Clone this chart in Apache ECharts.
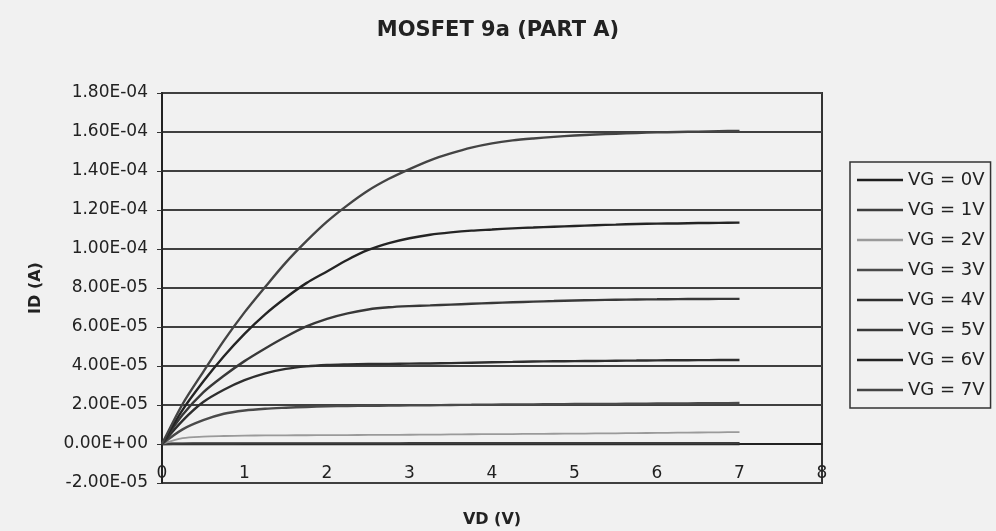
<!DOCTYPE html>
<html>
<head>
<meta charset="utf-8">
<script src="https://cdn.jsdelivr.net/npm/echarts@6/dist/echarts.min.js"></script>
<style>
  html, body { margin: 0; padding: 0; background: #f1f1f1; }
  #chart { width: 996px; height: 531px; }
</style>
</head>
<body>
<div id="chart"></div>
<script>
// Drain voltage VD (V)
const vd = [0, 0.25, 0.5, 0.75, 1, 1.25, 1.5, 1.75, 2, 2.25, 2.5, 2.75, 3, 3.25, 3.5, 3.75, 4, 4.25, 4.5, 4.75, 5, 5.25, 5.5, 5.75, 6, 6.25, 6.5, 6.75, 7];

// Drain current ID (A) for each gate voltage
const vg0 = [0, 0, 0, 0, 0, 0, 0, 0, 0, 0, 0, 0, 0, 0, 0, 0, 0, 0, 0, 0, 0, 0, 0, 0, 0, 0, 0, 0, 0];
const vg1 = [0, 2.0e-7, 2.5e-7, 2.8e-7, 3.0e-7, 3.1e-7, 3.2e-7, 3.2e-7, 3.3e-7, 3.3e-7, 3.4e-7, 3.4e-7, 3.5e-7, 3.5e-7, 3.6e-7, 3.6e-7, 3.7e-7, 3.7e-7, 3.8e-7, 3.8e-7, 3.9e-7, 3.9e-7, 4.0e-7, 4.0e-7, 4.1e-7, 4.1e-7, 4.2e-7, 4.2e-7, 4.3e-7];
const vg2 = [0, 3.0e-6, 3.8e-6, 4.1e-6, 4.3e-6, 4.4e-6, 4.45e-6, 4.5e-6, 4.55e-6, 4.6e-6, 4.65e-6, 4.7e-6, 4.75e-6, 4.8e-6, 4.9e-6, 5.0e-6, 5.05e-6, 5.1e-6, 5.2e-6, 5.25e-6, 5.3e-6, 5.4e-6, 5.5e-6, 5.6e-6, 5.7e-6, 5.8e-6, 5.9e-6, 6.0e-6, 6.1e-6];
const vg3 = [0, 7.5e-6, 1.22e-5, 1.55e-5, 1.72e-5, 1.81e-5, 1.86e-5, 1.9e-5, 1.93e-5, 1.95e-5, 1.96e-5, 1.97e-5, 1.98e-5, 1.99e-5, 2.0e-5, 2.01e-5, 2.02e-5, 2.025e-5, 2.03e-5, 2.04e-5, 2.05e-5, 2.055e-5, 2.06e-5, 2.07e-5, 2.075e-5, 2.08e-5, 2.09e-5, 2.095e-5, 2.1e-5];
const vg4 = [0, 1.2e-5, 2.15e-5, 2.78e-5, 3.27e-5, 3.62e-5, 3.85e-5, 3.98e-5, 4.05e-5, 4.08e-5, 4.1e-5, 4.11e-5, 4.12e-5, 4.13e-5, 4.15e-5, 4.17e-5, 4.19e-5, 4.21e-5, 4.23e-5, 4.24e-5, 4.25e-5, 4.26e-5, 4.27e-5, 4.28e-5, 4.29e-5, 4.295e-5, 4.3e-5, 4.305e-5, 4.31e-5];
const vg5 = [0, 1.5e-5, 2.65e-5, 3.5e-5, 4.25e-5, 4.9e-5, 5.5e-5, 6.03e-5, 6.42e-5, 6.7e-5, 6.9e-5, 7.01e-5, 7.07e-5, 7.11e-5, 7.15e-5, 7.19e-5, 7.23e-5, 7.27e-5, 7.3e-5, 7.33e-5, 7.36e-5, 7.38e-5, 7.4e-5, 7.41e-5, 7.42e-5, 7.43e-5, 7.435e-5, 7.44e-5, 7.44e-5];
const vg6 = [0, 1.75e-5, 3.2e-5, 4.5e-5, 5.65e-5, 6.65e-5, 7.5e-5, 8.25e-5, 8.85e-5, 9.45e-5, 9.95e-5, 1.03e-4, 1.055e-4, 1.073e-4, 1.085e-4, 1.094e-4, 1.1e-4, 1.106e-4, 1.11e-4, 1.114e-4, 1.118e-4, 1.122e-4, 1.125e-4, 1.128e-4, 1.13e-4, 1.131e-4, 1.133e-4, 1.134e-4, 1.135e-4];
const vg7 = [0, 2.05e-5, 3.7e-5, 5.3e-5, 6.75e-5, 8.05e-5, 9.3e-5, 1.04e-4, 1.14e-4, 1.225e-4, 1.3e-4, 1.36e-4, 1.41e-4, 1.455e-4, 1.49e-4, 1.52e-4, 1.542e-4, 1.557e-4, 1.567e-4, 1.575e-4, 1.582e-4, 1.587e-4, 1.591e-4, 1.595e-4, 1.598e-4, 1.6e-4, 1.602e-4, 1.604e-4, 1.606e-4];

const seriesNames = ['VG = 0V', 'VG = 1V', 'VG = 2V', 'VG = 3V', 'VG = 4V', 'VG = 5V', 'VG = 6V', 'VG = 7V'];
const seriesValues = [vg0, vg1, vg2, vg3, vg4, vg5, vg6, vg7];
const seriesColors = ['#1e1e1e', '#3c3c3c', '#9a9a9a', '#4a4a4a', '#2e2e2e', '#383838', '#242424', '#444444'];

const titleText = 'MOSFET 9a (PART A)';
const xName = 'VD (V)';
const yName = 'ID (A)';

function sci(v) {
  if (Math.abs(v) < 1e-12) return '0.00E+00';
  const s = v.toExponential(2);
  const parts = s.split('e');
  const sign = parts[1][0] === '-' ? '-' : '+';
  let ex = parts[1].replace('+', '').replace('-', '');
  if (ex.length < 2) ex = '0' + ex;
  return parts[0] + 'E' + sign + ex;
}

const chart = echarts.init(document.getElementById('chart'));
const font = 'DejaVu Sans';

chart.setOption({
  backgroundColor: '#f1f1f1',
  animation: false,
  title: {
    text: titleText,
    left: 'center',
    top: 15,
    textStyle: { fontFamily: font, fontWeight: 'bold', fontSize: 21, color: '#222' }
  },
  legend: {
    orient: 'vertical',
    left: 850,
    top: 162,
    padding: [9, 6, 9, 7],
    icon: 'rect',
    itemWidth: 46,
    itemHeight: 2.4,
    itemGap: 12,
    borderColor: '#333',
    borderWidth: 1.5,
    data: seriesNames,
    textStyle: { fontFamily: font, fontSize: 18, color: '#222', lineHeight: 18 }
  },
  grid: {
    left: 162, right: 174, top: 93, bottom: 48,
    outerBoundsMode: 'none',
    containLabel: false,
    show: true, borderColor: '#333', borderWidth: 2
  },
  xAxis: {
    type: 'value',
    min: 0, max: 8, interval: 1,
    name: xName,
    nameLocation: 'middle',
    nameGap: 29,
    nameTextStyle: { fontFamily: font, fontWeight: 'bold', fontSize: 16, color: '#222' },
    axisLine: { onZero: true, lineStyle: { color: '#222', width: 2 } },
    axisTick: { show: false },
    axisLabel: { margin: -18, fontFamily: font, fontSize: 17, color: '#222' },
    splitLine: { show: false }
  },
  yAxis: {
    type: 'value',
    min: -2e-5, max: 1.8e-4, interval: 2e-5,
    name: yName,
    nameLocation: 'middle',
    nameRotate: 90,
    nameGap: 118,
    nameTextStyle: { fontFamily: font, fontWeight: 'bold', fontSize: 16, color: '#222' },
    axisLine: { show: true, onZero: false, lineStyle: { color: '#222', width: 2 } },
    axisTick: { show: true, length: 5, lineStyle: { color: '#333', width: 1 } },
    axisLabel: { margin: 14, fontFamily: font, fontSize: 17, color: '#222', formatter: sci },
    splitLine: { show: true, lineStyle: { color: '#404040', width: 1.8 } }
  },
  series: seriesNames.map((name, i) => ({
    name: name,
    type: 'line',
    smooth: 0.3,
    symbol: 'none',
    lineStyle: { color: seriesColors[i], width: i === 2 ? 1.8 : 2.4 },
    itemStyle: { color: seriesColors[i] },
    data: vd.map((x, j) => [x, seriesValues[i][j]])
  }))
});
</script>
</body>
</html>
